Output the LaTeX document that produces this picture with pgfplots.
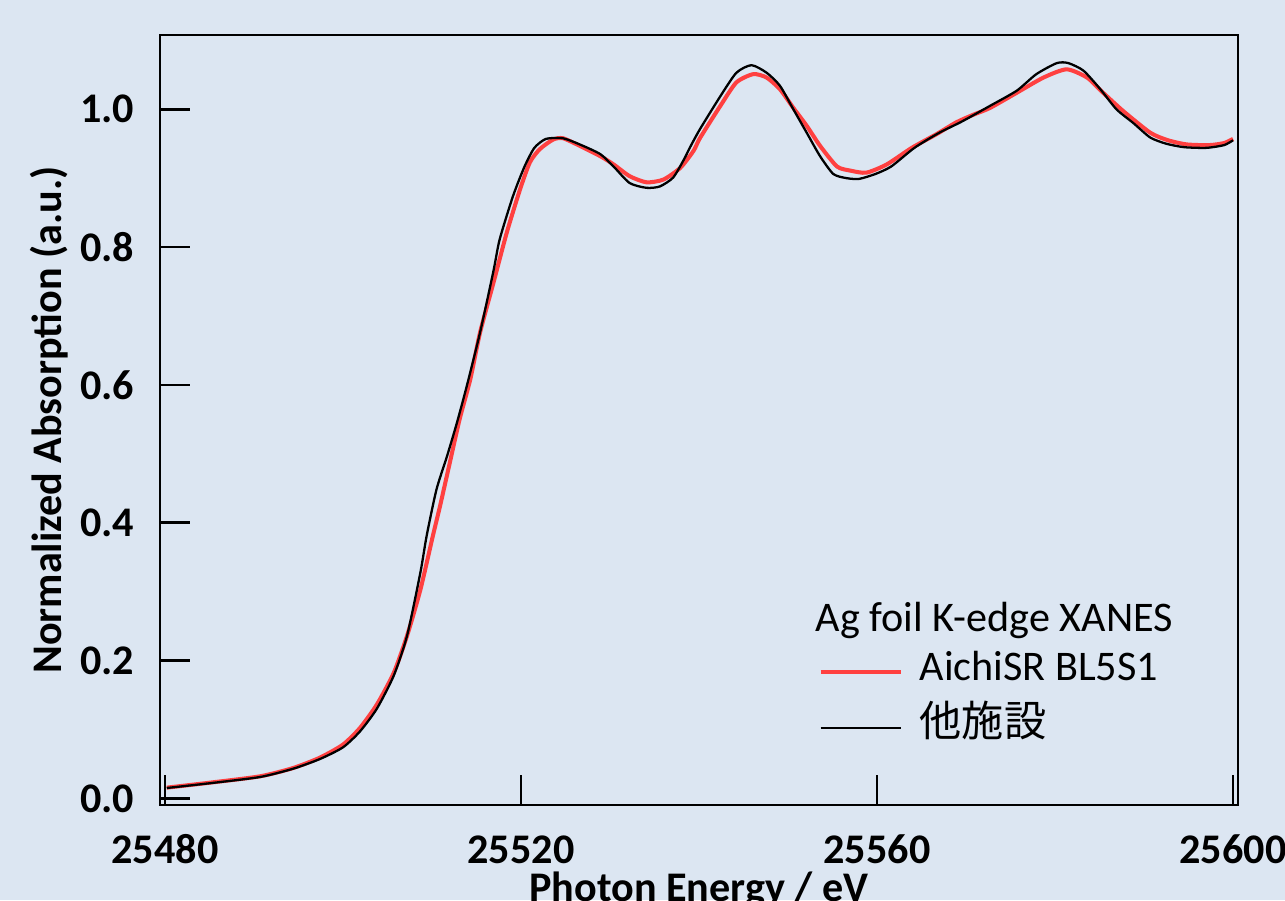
\documentclass[border=0pt]{standalone}
\usepackage{pgfplots}
\pgfplotsset{compat=1.18}
\usepackage{fontspec}
\setmainfont{Carlito}
\newfontfamily\cjk{Noto Sans CJK JP}
\definecolor{bgblue}{RGB}{220,230,242}
\definecolor{aichired}{RGB}{255,64,64}

% Ag K-edge XANES, AichiSR BL5S1
\pgfplotstableread{
E       mu
25480.2 0.0155
25485.1 0.0228
25490.7 0.0320
25494.4 0.0440
25497.4 0.0590
25500.0 0.0780
25501.9 0.1020
25503.8 0.1360
25505.7 0.1820
25507.2 0.2360
25508.7 0.3030
25510.1 0.3810
25510.9 0.4240
25512.0 0.4870
25513.1 0.5500
25514.3 0.6080
25515.4 0.6760
25516.9 0.7480
25518.4 0.8210
25519.9 0.8840
25521.0 0.9230
25522.1 0.9420
25523.6 0.9560
25524.7 0.9580
25526.6 0.9470
25528.9 0.9320
25530.4 0.9200
25532.2 0.9030
25534.1 0.8940
25536.0 0.8980
25537.9 0.9150
25539.4 0.9400
25540.1 0.9580
25542.4 1.0050
25544.2 1.0390
25546.1 1.0510
25547.6 1.0460
25549.1 1.0290
25550.6 1.0020
25552.1 0.9760
25553.6 0.9470
25555.5 0.9170
25557.0 0.9110
25558.8 0.9080
25561.1 0.9200
25563.9 0.9440
25566.7 0.9640
25568.9 0.9810
25570.8 0.9920
25572.7 1.0020
25575.7 1.0240
25578.7 1.0460
25581.3 1.0580
25583.6 1.0460
25585.4 1.0240
25587.7 0.9970
25590.7 0.9660
25592.7 0.9550
25594.8 0.9490
25597.3 0.9480
25599.0 0.9510
25600.0 0.9570
}\aichi

% Ag K-edge XANES, reference facility
\pgfplotstableread{
E       mu
25480.2 0.0150
25485.1 0.0220
25490.7 0.0310
25494.4 0.0430
25497.4 0.0570
25500.0 0.0740
25501.9 0.0970
25503.8 0.1300
25505.7 0.1780
25507.2 0.2360
25508.7 0.3280
25509.4 0.3810
25510.5 0.4480
25511.7 0.4970
25512.8 0.5450
25513.9 0.5980
25515.4 0.6760
25516.9 0.7650
25517.6 0.8110
25519.1 0.8740
25520.4 0.9170
25521.5 0.9440
25522.8 0.9570
25524.7 0.9580
25526.6 0.9490
25528.9 0.9350
25530.4 0.9170
25532.2 0.8930
25534.1 0.8860
25535.6 0.8880
25537.1 0.9010
25538.3 0.9270
25539.0 0.9450
25540.1 0.9710
25542.4 1.0190
25544.2 1.0530
25545.9 1.0640
25547.6 1.0530
25549.1 1.0340
25550.6 1.0000
25552.1 0.9660
25553.6 0.9320
25555.1 0.9060
25556.6 0.9000
25558.0 0.8990
25559.8 0.9060
25561.6 0.9170
25564.2 0.9440
25567.0 0.9660
25569.5 0.9820
25572.7 1.0050
25575.7 1.0270
25577.9 1.0510
25580.2 1.0670
25581.5 1.0670
25583.2 1.0560
25585.1 1.0290
25586.9 1.0000
25588.8 0.9800
25590.7 0.9590
25592.5 0.9500
25594.5 0.9450
25597.0 0.9440
25599.0 0.9480
25600.0 0.9550
}\other

\begin{document}
\begin{tikzpicture}
\path[use as bounding box, fill=bgblue] (0,0) rectangle (128.5mm,90mm);
\begin{axis}[
  at={(16mm,9.5mm)}, anchor=south west,
  scale only axis, width=107.8mm, height=77mm,
  xmin=25479.44, xmax=25600.56,
  ymin=-0.0097, ymax=1.1078,
  axis line style={line width=0.7pt},
  tick style={line width=0.7pt, black},
  tick align=inside, major tick length=3mm,
  tick pos=left,
  xtick={25480,25520,25560,25600},
  ytick={0,0.2,0.4,0.6,0.8,1.0},
  scaled x ticks=false,
  /pgf/number format/assume math mode=true,
  ticklabel style={font=\fontsize{12}{14}\selectfont\bfseries},
  xticklabel style={anchor=base, inner sep=0pt, yshift=-5.8mm,
    /pgf/number format/.cd, fixed, precision=0, set thousands separator={}},
  yticklabel style={anchor=east, inner sep=0pt, xshift=-2.5mm,
    /pgf/number format/.cd, fixed, fixed zerofill, precision=1},
  xlabel={Photon Energy / eV},
  ylabel={Normalized Absorption (a.u.)},
  label style={font=\fontsize{12}{14}\selectfont\bfseries, inner sep=0pt},
  xlabel style={at={(axis description cs:0.5,-0.1247)}, anchor=base},
  ylabel style={at={(axis description cs:-0.0918,0.5)}, anchor=base, rotate=0},
  legend image code/.code={\draw[#1] (0mm,0mm) -- (8mm,0mm);},
  legend style={draw=none, fill=none, inner sep=0pt,
    at={(axis description cs:0.6104,0.1961)}, anchor=north west,
    font=\fontsize{12}{14}\selectfont,
    row sep=2.2mm, column sep=1.7mm,
    nodes={inner sep=0pt, text height=2.6mm, text depth=0.8mm}},
  legend cell align=left,
  clip=false,
]
\addplot[aichired, line width=1.15pt, smooth, tension=0.4] table[x=E, y=mu] {\aichi};
\addlegendentry{AichiSR BL5S1}
\addplot[black, line width=0.65pt, smooth, tension=0.4] table[x=E, y=mu] {\other};
\addlegendentry{{\cjk 他施設}}
\node[anchor=base west, inner sep=0pt, font=\fontsize{12}{14}\selectfont]
  at (axis description cs:0.6076,0.2247) {Ag foil K-edge XANES};
\end{axis}
\end{tikzpicture}
\end{document}
